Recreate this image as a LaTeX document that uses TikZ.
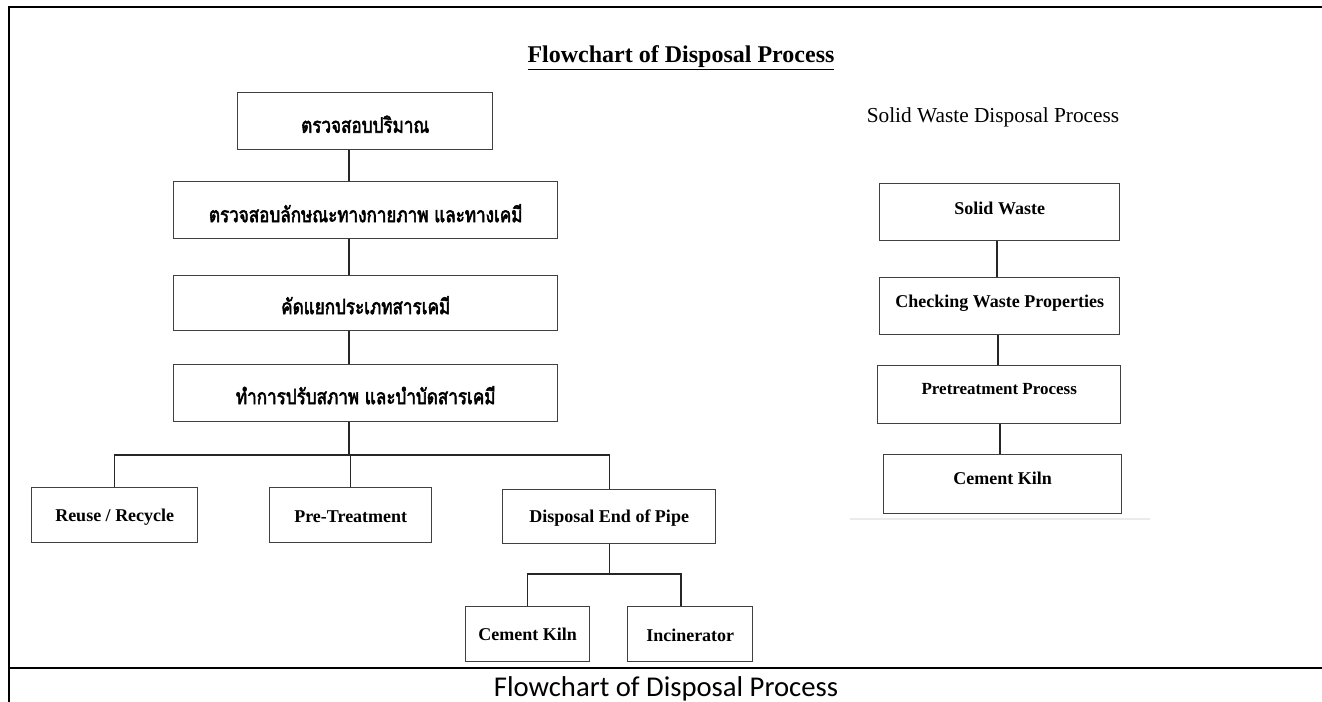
\documentclass[tikz,border=0pt]{standalone}
\usepackage{fontspec}
\setmainfont{Liberation Serif}
\newfontfamily\thai[Script=Thai, FakeStretch=0.8, AutoFakeBold=2.5]{Loma}
\newfontfamily\capfont{Carlito}
\usetikzlibrary{calc}
\tikzset{
  pbox/.style={draw=black!75, line width=1.1pt, fill=white, inner sep=0pt, anchor=north west},
  en/.style={font=\bfseries\fontsize{13.5}{16}\selectfont},
  th/.style={font=\thai\bfseries\fontsize{16}{19}\selectfont},
  conn/.style={draw=black!85, line width=0.8pt},
  frame/.style={draw=black, line width=1.6pt}
}
\begin{document}
\begin{tikzpicture}[x=0.75pt,y=-0.75pt]
\useasboundingbox (0,0) rectangle (1322,702);
% page frame
\draw[frame] (9,7) -- (1322,7);
\draw[frame] (9,6) -- (9,702);
\draw[frame] (9,668) -- (22,668);
\draw[draw=black, line width=0.9pt] (22,668) -- (755,668);
\draw[frame] (755,668) -- (1322,668);

% titles
\node[font=\bfseries\fontsize{18}{21}\selectfont] (title) at (681,58) {\underline{Flowchart of Disposal Process}};
\node[font=\fontsize{16}{19}\selectfont] (rtitle) at (993,117) {Solid Waste Disposal Process};
\node[font=\capfont\fontsize{21.5}{25}\selectfont] (caption) at (666,689) {Flowchart of Disposal Process};

% left chart boxes
\node[pbox, minimum width=191.25pt, minimum height=42.75pt] (b1) at (237,92) {};
\node[th] at ($(b1.center)+(0,3)$) {ตรวจสอบปริมาณ};
\node[pbox, minimum width=288pt, minimum height=42.75pt] (b2) at (173,181) {};
\node[th] at ($(b2.center)+(0,3)$) {ตรวจสอบลักษณะทางกายภาพ และทางเคมี};
\node[pbox, minimum width=288pt, minimum height=41.25pt] (b3) at (173,275) {};
\node[th] at ($(b3.center)+(0,2)$) {คัดแยกประเภทสารเคมี};
\node[pbox, minimum width=288pt, minimum height=42.75pt] (b4) at (173,364) {};
\node[th] at ($(b4.center)+(0,2)$) {ทำการปรับสภาพ และบำบัดสารเคมี};

\node[pbox, minimum width=124.5pt, minimum height=41.25pt] (reuse) at (31,487) {};
\node[en] at ($(reuse.center)+(0,2)$) {Reuse / Recycle};
\node[pbox, minimum width=121.5pt, minimum height=41.25pt] (pret) at (269,487) {};
\node[en] at ($(pret.center)+(0,1)$) {Pre-Treatment};
\node[pbox, minimum width=159.75pt, minimum height=40.5pt] (disp) at (502,489) {};
\node[en] at ($(disp.center)+(0,1)$) {Disposal End of Pipe};
\node[pbox, minimum width=93pt, minimum height=41.25pt] (ck) at (465,606) {};
\node[en] at ($(ck.center)+(0,0)$) {Cement Kiln};
\node[pbox, minimum width=93.75pt, minimum height=41.25pt] (inc) at (627,606) {};
\node[en] at ($(inc.center)+(0,1)$) {Incinerator};

% left connectors
\draw[conn] (b1.south -| 349,0) -- (b2.north -| 349,0);
\draw[conn] (b2.south -| 349,0) -- (b3.north -| 349,0);
\draw[conn] (b3.south -| 349,0) -- (b4.north -| 349,0);
\coordinate (bus) at (349,455);
\draw[conn] (b4.south -| bus) -- (bus);
\draw[conn] (reuse.north) |- (bus) -| (disp.north);
\draw[conn] (pret.north) -- (pret.north |- bus);
\coordinate (bus2) at (608,574);
\coordinate (incTop) at (681,606);
\draw[conn] (disp.south) -- (disp.south |- bus2);
\draw[conn] (ck.north) |- (bus2) -| (incTop);

% right chart boxes
\node[pbox, minimum width=180pt, minimum height=42.75pt] (r1) at (879,183) {};
\node[en] at ($(r1.center)+(0,-4)$) {Solid Waste};
\node[pbox, minimum width=180pt, minimum height=42.75pt] (r2) at (879,277) {};
\node[en] at ($(r2.center)+(0,-3)$) {Checking Waste Properties};
\node[pbox, minimum width=182.25pt, minimum height=43.5pt] (r3) at (877,365) {};
\node[en, font=\bfseries\fontsize{12.75}{15}\selectfont] at ($(r3.center)+(0,-6)$) {Pretreatment Process};
\node[pbox, minimum width=178.5pt, minimum height=44.25pt] (r4) at (883,454) {};
\node[en] at ($(r4.center)+(0,-6)$) {Cement Kiln};

\draw[conn] (r1.south -| 997,0) -- (r2.north -| 997,0);
\draw[conn] (r2.south -| 998,0) -- (r3.north -| 998,0);
\draw[conn] (r3.south -| 1000,0) -- (r4.north -| 1000,0);
\draw[draw=black!8, line width=1.5pt] (850,519) -- (1150,519);
\end{tikzpicture}
\end{document}
